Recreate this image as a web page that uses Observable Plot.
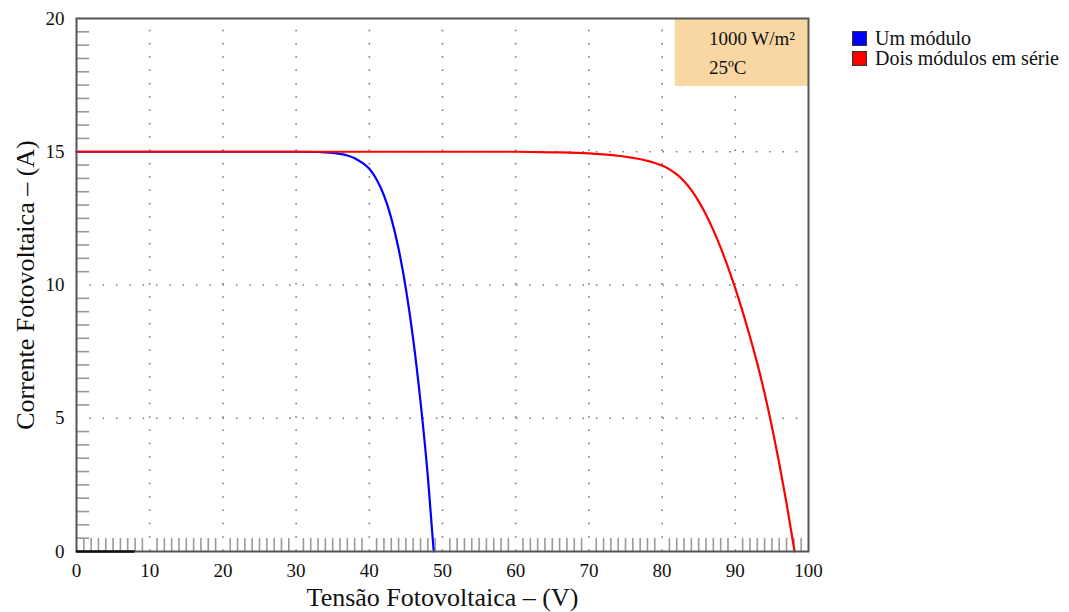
<!DOCTYPE html>
<html>
<head>
<meta charset="utf-8">
<script src="https://cdn.jsdelivr.net/npm/d3@7"></script>
<script src="https://cdn.jsdelivr.net/npm/@observablehq/plot@0.6"></script>
<style>
  html, body { margin: 0; padding: 0; background: #fff; }
  #wrap { position: relative; width: 1069px; height: 612px; font-family: "Liberation Serif", "Times New Roman", serif; }
  #legend { position: absolute; left: 852px; top: 28px; font-size: 20px; color: #111; }
  .item { display: flex; align-items: center; height: 20px; }
  .sw { width: 15px; height: 15px; border: 1px solid #333; margin-right: 8px; box-sizing: border-box; }
</style>
</head>
<body>
<div id="wrap"><div id="legend"></div></div>
<script>
// ---- data ----
const seriesNames = ["Um módulo", "Dois módulos em série"];
const seriesColors = ["#0000ff", "#ff0000"];

// Um módulo: tensão (V) e corrente (A)
const umV = [0, 10, 20, 30, 33, 34, 35, 36, 37, 38, 39, 40, 41, 42, 43, 44, 45, 46, 47, 48, 48.8];
const umI = [15, 15, 15, 15, 14.99, 14.98, 14.96, 14.92, 14.86, 14.76, 14.59, 14.36, 13.96, 13.36, 12.51, 11.36, 9.86, 7.96, 5.61, 2.81, 0];

// Dois módulos em série
const doisV = [0, 20, 40, 60, 65, 70, 72, 74, 76, 78, 79, 80, 81, 82, 83, 84, 85, 86, 87, 88, 89, 90, 91, 92, 93, 94, 95, 96, 97, 98, 98.1];
const doisI = [15, 15, 15, 15, 14.98, 14.94, 14.9, 14.85, 14.77, 14.66, 14.58, 14.48, 14.34, 14.15, 13.89, 13.56, 13.14, 12.64, 12.06, 11.4, 10.67, 9.87, 9.0, 8.06, 7.06, 5.94, 4.69, 3.31, 1.81, 0.16, 0];

const xTicks = [0, 10, 20, 30, 40, 50, 60, 70, 80, 90, 100];
const yTicks = [0, 5, 10, 15, 20];
const xGrid = [10, 20, 30, 40, 50, 60, 70, 80, 90];
const yGrid = [5, 10, 15];
const annotationLines = ["1000 W/m²", "25ºC"];
const xLabel = "Tensão Fotovoltaica – (V)";
const yLabel = "Corrente Fotovoltaica – (A)";

// ---- build ----
const minorX = d3.range(1, 100).filter(v => v % 10 !== 0);
const minorY = d3.range(0.5, 20, 0.5).filter(v => v % 5 !== 0);

const toRows = (V, I, s) => V.map((v, i) => ({ v, i: I[i], s }));
const umRows = toRows(umV, umI, seriesNames[0]);
const doisRows = toRows(doisV, doisI, seriesNames[1]);

const chart = Plot.plot({
  width: 1069,
  height: 612,
  marginLeft: 76,
  marginRight: 261,
  marginTop: 18,
  marginBottom: 61,
  x: { domain: [0, 100] },
  y: { domain: [0, 20] },
  style: { fontFamily: "Liberation Serif, Times New Roman, serif", fontSize: "19px", background: "#fff", color: "#111" },
  marks: [
    // dotted grid
    Plot.ruleX(xGrid, { y1: 0, y2: 20, stroke: "#777", strokeWidth: 1.6, strokeDasharray: "1.5,11.83" }),
    Plot.ruleY(yGrid, { x1: 0, x2: 100, stroke: "#777", strokeWidth: 1.6, strokeDasharray: "1.5,11.83" }),
    // annotation box
    Plot.rect([0], { x1: 81.8, x2: 100, y1: 17.45, y2: 20, fill: "#f9d7a3" }),
    Plot.text(annotationLines, {
      x: 86.4, y: (d, k) => 19.25 - k * 1.12, text: d => d,
      textAnchor: "start", fontSize: 19, fill: "#111"
    }),
    // inner minor ticks
    Plot.ruleY(minorY, { x1: 0, x2: 1.8, stroke: "#999", strokeWidth: 1.6 }),
    Plot.ruleX(minorX, { y1: 0, y2: 0.49, stroke: "#999", strokeWidth: 1.6 }),
    // curves
    Plot.line(umRows, { x: "v", y: "i", stroke: seriesColors[0], strokeWidth: 2.2, curve: "monotone-x" }),
    Plot.line(doisRows, { x: "v", y: "i", stroke: seriesColors[1], strokeWidth: 2.2, curve: "monotone-x" }),
    // frame
    Plot.frame({ stroke: "#555", strokeWidth: 2 }),
    Plot.ruleY([0], { x1: 0, x2: 8, stroke: "#111", strokeWidth: 2.5 }),
    // axes
    Plot.axisX(xTicks, { tickSize: 0, tickPadding: 12, fontSize: 19, label: null, fill: "#111" }),
    Plot.axisY(yTicks, { tickSize: 0, tickPadding: 12, fontSize: 19, label: null, fill: "#111" }),
    // axis titles
    Plot.text([xLabel], { frameAnchor: "bottom", lineAnchor: "middle", textAnchor: "middle", dy: 46, fontSize: 26, fill: "#111" }),
    Plot.text([yLabel], { frameAnchor: "left", lineAnchor: "middle", textAnchor: "middle", dx: -51, rotate: -90, fontSize: 26, fill: "#111" })
  ]
});

document.getElementById("wrap").prepend(chart);

// legend
const legend = d3.select("#legend");
seriesNames.forEach((name, k) => {
  const item = legend.append("div").attr("class", "item");
  item.append("div").attr("class", "sw").style("background", seriesColors[k]);
  item.append("span").text(name);
});
</script>
</body>
</html>
